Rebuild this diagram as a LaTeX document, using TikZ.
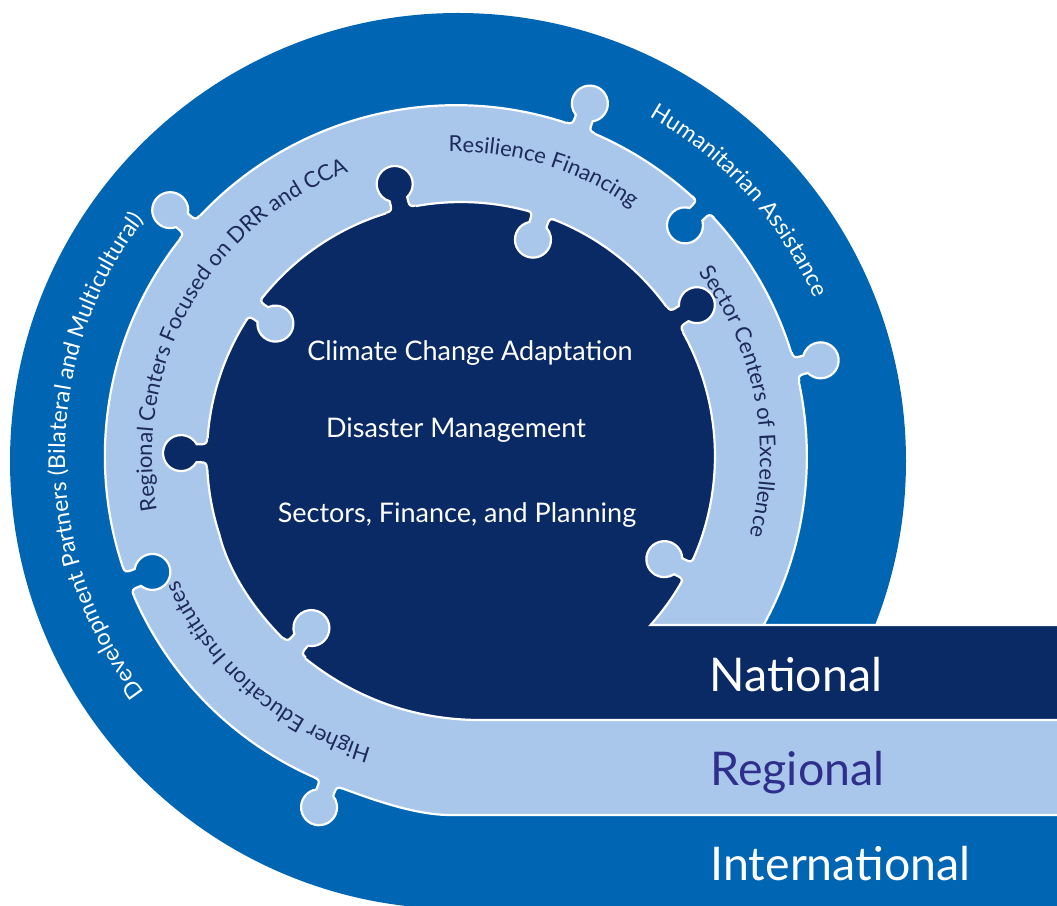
\documentclass[tikz,border=0pt]{standalone}
\usepackage{fontspec}
\setmainfont{Lato}
\usetikzlibrary{decorations.text}

\definecolor{natblue}{HTML}{0A2A66}
\definecolor{regblue}{HTML}{A9C6EB}
\definecolor{intblue}{HTML}{0065B3}
\definecolor{inkblue}{HTML}{1E2A5A}
\definecolor{regtext}{HTML}{2E2F8C}

\newcommand{\outerfont}{\fontsize{23}{23}\selectfont}
\newcommand{\innerfont}{\fontsize{22}{22}\selectfont}

\tikzset{
  seam/.style={draw=white, line width=2.2pt},
  hubtext/.style={text=white, anchor=base, font=\fontsize{27}{32}\selectfont},
  bandtext/.style={anchor=base west, font=\fontsize{46.5}{52}\selectfont},
  outerlabel/.style={decorate, decoration={text along path, text align=center,
    text color=white, text={|\outerfont|#1}}},
  innerlabel/.style={decorate, decoration={text along path, text align=center,
    text color=inkblue, text={|\innerfont|#1}}},
}

% puzzle tab: centre, angle, base radius, turn (0 out / 180 in), colour
\newcommand{\knob}[5]{%
  \begin{scope}[shift={(#1)}, rotate=#2, shift={(#3,0)}, rotate=#4]
    \fill[#5] (-4,-15) -- (0,-15) .. controls (0,-10) and (2,-9) .. (6,-9)
      -- (10.4,-9) arc[start angle=-150, end angle=150, radius=18]
      -- (6,9) .. controls (2,9) and (0,10) .. (0,15) -- (-4,15) -- cycle;
    \draw[seam] (0,-15) .. controls (0,-10) and (2,-9) .. (6,-9)
      -- (10.4,-9) arc[start angle=-150, end angle=150, radius=18]
      -- (6,9) .. controls (2,9) and (0,10) .. (0,15);
  \end{scope}}

\begin{document}
\begin{tikzpicture}[x=1pt, y=1pt]
  \useasboundingbox (0,0) rectangle (1057,905);

  \coordinate (oc) at (458,444);
  \coordinate (lc) at (456,449);
  \coordinate (nc) at (461,449);

  % international layer
  \fill[intblue] (oc) circle[radius=448];
  \fill[intblue] (458,-10) rectangle (1070,150);

  % regional layer
  \filldraw[regblue, seam] (1070,250) -- (745.1,250)
    arc[start angle=-34.5, end angle=250, radius=351]
    .. controls (359.5,110.6) and (410,90) .. (450,90)
    -- (1070,90) -- cycle;

  % national layer
  \filldraw[natblue, seam] (1070,280) -- (650.6,280)
    arc[start angle=-41.7, end angle=198, radius=254]
    .. controls (236.6,299.2) and (330,185) .. (480,185)
    -- (1070,185) -- cycle;

  % tabs between the regional and international rings
  \knob{lc}{69.2}{351}{0}{regblue}
  \knob{lc}{139.3}{351}{0}{regblue}
  \knob{lc}{200.9}{351}{180}{intblue}
  \knob{lc}{248.7}{351}{0}{regblue}
  \knob{lc}{45.2}{351}{180}{intblue}
  \knob{lc}{14.7}{351}{0}{regblue}

  % tabs between the national and regional rings
  \knob{nc}{103.7}{254}{0}{natblue}
  \knob{nc}{71.6}{254}{180}{regblue}
  \knob{nc}{144.5}{254}{180}{regblue}
  \knob{nc}{179.4}{254}{0}{natblue}
  \knob{nc}{229}{254}{180}{regblue}
  \knob{nc}{32.6}{254}{0}{natblue}
  \knob{nc}{-26.9}{254}{180}{regblue}

  % ring labels
  \path[outerlabel={Development Partners (Bilateral and Multicultural)}]
    (lc) ++(230:391) arc[start angle=230, end angle=130, radius=391];
  \path[outerlabel={Humanitarian Assistance}]
    (lc) ++(72:391) arc[start angle=72, end angle=12, radius=391];
  \path[innerlabel={Regional Centers Focused on DRR and CCA}]
    (lc) ++(205:304) arc[start angle=205, end angle=96, radius=304];
  \path[innerlabel={Resilience Financing}]
    (lc) ++(102:304) arc[start angle=102, end angle=44, radius=304];
  \path[innerlabel={Sector Centers of Excellence}]
    (lc) ++(46:304) arc[start angle=46, end angle=-24, radius=304];
  \path[innerlabel={Higher Education Institutes}]
    (lc) ++(266:304) arc[start angle=266, end angle=192, radius=304];

  % hub
  \node[hubtext] (cca) at (470,544) {Climate Change Adaptation};
  \node[hubtext] (dm)  at (456,467) {Disaster Management};
  \node[hubtext] (sfp) at (457,382) {Sectors, Finance, and Planning};

  % level names on the bands
  \node[bandtext, text=white]   (nat) at (706,213) {National};
  \node[bandtext, text=regtext] (reg) at (707,120) {Regional};
  \node[bandtext, text=white]   (int) at (707,25)  {International};
\end{tikzpicture}
\end{document}
